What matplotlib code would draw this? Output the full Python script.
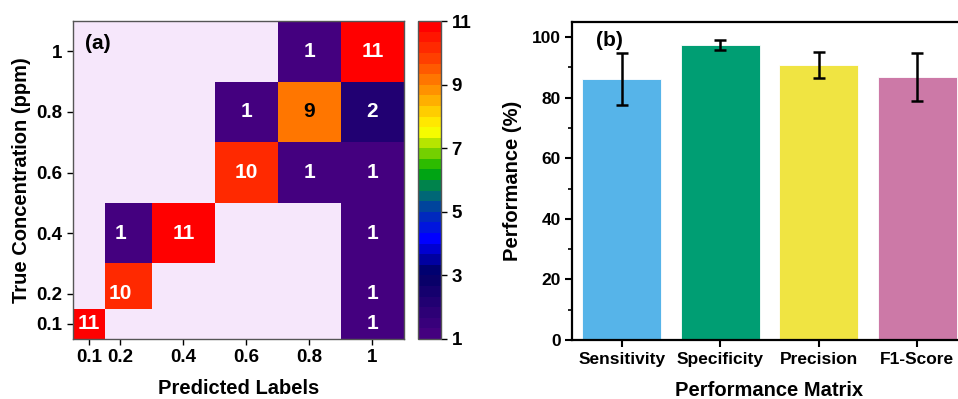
import numpy as np
import matplotlib
matplotlib.use("Agg")
import matplotlib.pyplot as plt
from matplotlib.colors import LinearSegmentedColormap

plt.rcParams['font.family'] = ['Liberation Sans', 'DejaVu Sans']
plt.rcParams['font.weight'] = 'bold'
plt.rcParams['axes.labelweight'] = 'bold'

# confusion matrix data (rows = true, cols = predicted); 0 = empty cell
pred_labels = [0.1, 0.2, 0.4, 0.6, 0.8, 1]
true_labels = [0.1, 0.2, 0.4, 0.6, 0.8, 1]
tick_text = ['0.1', '0.2', '0.4', '0.6', '0.8', '1']
counts = np.array([
    [11, 0, 0, 0, 0, 1],
    [0, 10, 0, 0, 0, 1],
    [0, 1, 11, 0, 0, 1],
    [0, 0, 0, 10, 1, 1],
    [0, 0, 0, 1, 9, 2],
    [0, 0, 0, 0, 1, 11],
])

# performance data
metrics = ['Sensitivity', 'Specificity', 'Precision', 'F1-Score']
perf_mean = [86.1, 97.3, 90.9, 86.8]
perf_err = [8.6, 1.7, 4.3, 7.9]
bar_colors = ['#56B4E9', '#009E73', '#F0E442', '#CC79A7']

# rainbow-like palette (Origin style), 30 discrete levels
anchors = [
    (0.0, '#44007F'), (0.2, '#000066'), (0.31, '#0000FF'), (0.4, '#0035AA'),
    (0.44, '#006080'), (0.48, '#008050'), (0.53, '#00B000'), (0.6, '#90D800'),
    (0.66, '#FFFF00'), (0.73, '#FFC800'), (0.8, '#FF8C00'), (0.9, '#FF3C00'),
    (1.0, '#FF0000'),
]
cmap = LinearSegmentedColormap.from_list('origin_rainbow', anchors, N=30)
cmap.set_bad('#F6E7FB')


def cell_edges(vals):
    v = np.asarray(vals, dtype=float)
    mids = (v[:-1] + v[1:]) / 2
    first = v[0] - (mids[0] - v[0])
    last = v[-1] + (v[-1] - mids[-1])
    return np.concatenate([[first], mids, [last]])


fig = plt.figure(figsize=(9.58, 3.99), dpi=100)

# ---- (a) confusion matrix ----
ax1 = fig.add_axes([0.0762, 0.1504, 0.3455, 0.7966])
xe = cell_edges(pred_labels)
ye = cell_edges(true_labels)
data = np.ma.masked_equal(counts, 0)
mesh = ax1.pcolormesh(xe, ye, data, cmap=cmap, vmin=1, vmax=11)
ax1.set_xlim(xe[0], xe[-1])
ax1.set_ylim(ye[0], ye[-1])
for i, ty in enumerate(true_labels):
    for j, px in enumerate(pred_labels):
        c = counts[i, j]
        if c:
            ax1.text(px, ty, str(c), ha='center', va='center', fontsize=15,
                     fontweight='bold', color='black' if c == 9 else 'white')
ax1.set_xticks(pred_labels)
ax1.set_xticklabels(tick_text)
ax1.set_yticks(true_labels)
ax1.set_yticklabels(tick_text)
ax1.tick_params(direction='out', length=4, width=1, labelsize=13.5)
for s in ax1.spines.values():
    s.set_color('#555555')
    s.set_linewidth(1)
ax1.set_xlabel('Predicted Labels', fontsize=14.5, labelpad=9)
ax1.set_ylabel('True Concentration (ppm)', fontsize=14.5, labelpad=4)
ax1.text(0.035, 0.93, '(a)', transform=ax1.transAxes, fontsize=15,
         fontweight='bold', va='center')

cax = fig.add_axes([0.4363, 0.1504, 0.024, 0.7966])
cb = fig.colorbar(mesh, cax=cax, ticks=[1, 3, 5, 7, 9, 11])
cb.ax.tick_params(direction='out', length=4, width=1, labelsize=13.5)
cb.outline.set_linewidth(1)
cb.outline.set_edgecolor('#555555')

# ---- (b) performance bars ----
ax2 = fig.add_axes([0.5975, 0.148, 0.4113, 0.797])
x = np.arange(len(metrics))
ax2.bar(x, perf_mean, width=0.8, color=bar_colors, edgecolor='white',
        linewidth=0.6, yerr=perf_err, capsize=4,
        error_kw=dict(elinewidth=1.8, capthick=1.8, ecolor='black'))
ax2.set_xlim(-0.5, 3.5)
ax2.set_ylim(0, 105)
ax2.set_xticks(x)
ax2.set_xticklabels(metrics)
ax2.set_yticks([0, 20, 40, 60, 80, 100])
ax2.set_yticks(np.arange(10, 100, 20), minor=True)
ax2.tick_params(direction='out', length=5, width=1.5, labelsize=12.5)
ax2.tick_params(which='minor', direction='out', length=3, width=1.2)
for s in ax2.spines.values():
    s.set_linewidth(1.6)
ax2.set_xlabel('Performance Matrix', fontsize=14.5, labelpad=10)
ax2.set_ylabel('Performance (%)', fontsize=14.5, labelpad=7)
ax2.text(0.06, 0.943, '(b)', transform=ax2.transAxes, fontsize=15,
         fontweight='bold', va='center')

fig.savefig('out.png', dpi=100)
